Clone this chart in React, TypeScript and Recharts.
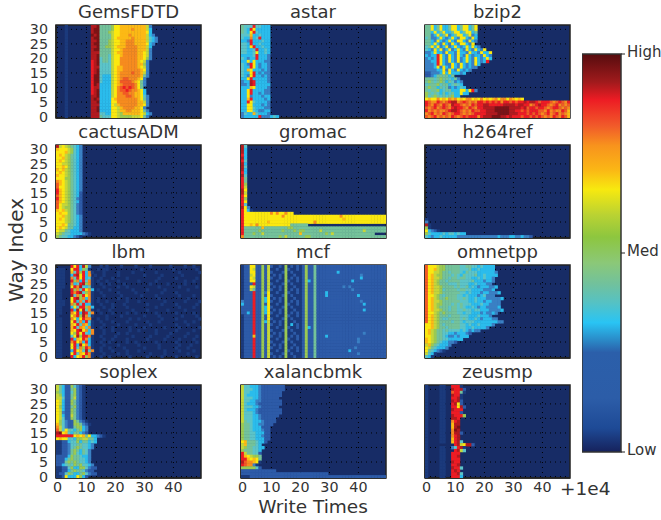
import React from "react";
import { ScatterChart, Scatter, XAxis, YAxis, ReferenceLine, ReferenceArea, BarChart, Bar } from "recharts";

const xTicks = [0, 10, 20, 30, 40];
const yTicks = [0, 5, 10, 15, 20, 25, 30];
const levelColors = ["#172c66","#1b3a7c","#2d5ba8","#3a80c4","#2bbcec","#5cc4c8","#74c29a","#9bc952","#c5d63a","#fbe80f","#fcb915","#f68b1f","#f15a24","#ed1c24","#b21a1e","#7d1315"];
const colorStops = [[0,"#560c0e"],[0.07,"#a01a1c"],[0.115,"#ed1c24"],[0.18,"#f15a2a"],[0.23,"#f8931d"],[0.29,"#fbb615"],[0.34,"#f7e90f"],[0.405,"#b9d233"],[0.46,"#8dc63f"],[0.525,"#8bc878"],[0.58,"#70c19e"],[0.625,"#55c2c4"],[0.675,"#29c4f4"],[0.715,"#2a8fcb"],[0.75,"#2b5faa"],[0.865,"#2c5da8"],[0.94,"#1e4a96"],[1,"#16225c"]];
const colorbarLabels = { 0: "Low", 0.5: "Med", 1: "High" };

// each row string: top row first, one hex intensity level per cell (spaces only group cells by ten), omitted tail = level 0
const gems = [
"0001000000 00eef66667 99aaaaaaaa a83","0001000000 00eff66667 99aaaabaaa a84","0001000000 00eff66678 99aaaaaaaa a94","0001000000 00fef66668 99aaabaaaa a843",
"0001000000 00eff66668 9aaaaabaaa a8543","0001000000 00eef66678 99aabbbaaa a8543","0001000000 00eff66678 99aabbbaaa a943","0001000000 00eef66778 9aaabbbbaa a84",
"0001000000 00eff66668 99abbbbbaa a83","0001000000 00eee66668 9aabbbbbaa 983","0001000000 00eef66658 99abbbbbaa 983","0001000000 00eef56658 99bbbbbbaa 973",
"0001000000 00def56658 99bbbbbba9 83","0001000000 00def55558 99bbbbbbaa 73","0001000000 00dee55558 9aabbbbba9 83","0001000000 00def55558 9aabbbbbba 93",
"0001000000 00def55558 9abbbbcbba 83","0001000000 00dff54448 9abbbbbbba 63","0001000000 00dff54448 9abccbbba9 3","0001000000 00dff54448 9accccba96 3",
"0001000000 00dfe44448 9abccccb96 3","0001000000 00dee44448 9bcdcdcb96","0001000000 00def44448 9bccdcbba9 4","0001000000 00def44448 9bbccbbaa9 4",
"0001000000 00eef44448 9bbbccbaa9 53","0001000000 00efe44449 abbbbbbba9 63","0001000000 00eef44449 9bbbbbbbaa 83","0001000000 00eee44449 8abbbbbbaa 93",
"0001000000 00eef44449 98abbbbaa9 3","0001000000 00eef44449 98aabbaaa9 63","0001000000 00eee55449 987aaaaaa9 843","0001000000 00eee65559 9877778889 63",
];
const astar = [
"6555d55444","654d944444","6549d54444","555a445444","544b45d444","443d444544","554d445444","5549d44544",
"55445d4454","5544594454","44445d4443","54344d4443","4494944433","543d943443","544d943443","54a9444343",
"5449d43433","5439d44343","449d444443","344ed44443","334ed44444","444a944443","449d444433","449d443433",
"4493444344","44ad444434","44d9544443","4499444343","4499544433","4499543344","3544a54443","344444d333 454",
];
const bzip2 = [
"6694694469 94699469","6694694469 94699469","6649469446 99469946","6634946934 69946934","5633494349 43994394","6643943494 39943943","6649439439 4399439","5694934934 94349494 3",
"5439493493 49439439 439","3349443944 39443944 39449","4344d94394 39439434 43943","3434d94394 39349439 43494","3344d94394 39349439 434d","3334d94339 43943439 4","3334939439 43943433","3333449394 394343",
"2233349494 4434","2234666646","6665676654 63","6765676465 343","5666756645 654","6766465634 3454","6566745664 449949d3","7656546456 44944",
"7567656567 44","9a99b9a9ba b9a9bb9a9b 9a9ab9bb9b a9a9","dcbbdcbcde ebcdcbcbdd cdcdcdbddc dcddedeedc dddcbcdcbd","dcbdcbdcbe ddcbcbdcdd eedddddeee edeeddbcde ddcbcdbcbc",
"cbcdbcdcbd eddcbdcbdd eeeefffffe eeedecddcd dcbcddcbcb","dbcbcbbcde edcbcbdccd deeefffffe eddcdcdddc cbdbcbbdca","bcdbcbdcbc ddcbcbcddd deeeeffffe eedddcdcdc bcdbcdbcba","cbcdbcbcbd cbcdcdddbd eeefffeede dddcddcdcd cbcbdcbdca",
];
const cactus = [
"e89876543","a99987543","999a87543","9a9876543","99a876543","9a9876543","998876543","99a976543",
"a9a876543","9a9876543","a99876543","999776543","ba9876543","ca9876543","c99876543","da9876543",
"da9876542","ca9876542","da9876532","ca9876542","c98876532","c98776532","a9a876532","9a9976532",
"99a876543","9a9876543","999876543","99a966543","9a9866443","988654443","8765544443 21","765544321",
];
const lbm = [
"00000d9d4e 8300010100 0010000100 0010000001 0000100100","11100 9dd476 1 0010110000".replace(/ /g, "") + "0000000100 0000000010 000000100","11100a5d7d 4b10001000 0100001000 0000100000 0010000001","11100 4de9d4 b0100100 0010000000 0100000100 0000100000",
"11100b5d9d 4510010001 0000100000 0000010000 0100000010","11100d7b4d 5b10100100 0100000010 0000100000 0000100100","11100b45de 7b10010010 0001000000 0010000010 0000100000","111009dbe5 4610001000 0100100000 0000010000 0010000010",
"11000d7b5d 9b40100010 0000001000 0100000100 0000010000","11000dbde5 7b10010000 0100000100 0000001000 0100000000","11000e5b7d 9b10001000 0010000001 0000100000 0010000100","110009de7b 4b10100000 0100100000 0000010000 0000010000",
"111009d4b5 db10100100 0000100010 0000000100 0000100001","11100b7d5d 4410010001 0001000000 0100001000 0100000010","1100049 5dd 7b40001001 0000100000 0000100000 0010000100","11000d4e9e 5b10100010 0000001000 0100000010 0000100000",
"11000b9d4e d5b0010001 0000100100 0000100000 0100000100","100009bd7e b510000100 0010000000 1000010000 0001000010","11000b949d bb00100100 0000010010 0000001000 0100000001","110009d5b4 d510010001 0000100000 0100010000 0000100100",
"11000a9d5b a410001000 0100000100 0010000000 0100010000","11000ad5ba 5b10010001 0000010000 1000000100 0010000001","11000a9de9 b4b0001001 0000010010 0000100000 0100000100","1100097d9d 54b0001000 0100100000 0000100001 0000010000",
"1100059e7d db10010000 1000001000 0010000010 0000100010","11000d4a9d b410001001 0000100000 0100000100 0010000100","11000bd9b4 d410010010 0000100100 0000100000 0100000010","110009d4e9 b410001000 0100000010 0000010000 0010001000",
"110009d5b7 db10010010 0001000000 1000010000 0100010000","110004d9a5 e5b0010001 0000100010 0000000100 0010000100","110009d5a9 db10001000 0100100000 0010000100 0000010000","11000d49ad 7b10010010 0000010000 0100001000 0100000010",
];
const mcf = [
"1229922728 2112171212 1272262222 2222222222 2222222222","1229822728 1121172112 1272262222 2222222222 2222222222","1229922728 2111271211 1272262222 2224222222 2222222222","1228922728 1212171121 1272262222 2222222222 2322222222",
"1229822728 2112171212 1272262222 2222222222 2422222222","1229922728 1121172112 1274262222 2222222242 2222222222","1222d22728 2111271211 1272262222 2222222222 2222222222","1229822728 1212171121 1272262222 2222232322 2222222222",
"1228622728 2112171212 1272262222 2222222232 2222222222","1222d22739 1121172112 1272262224 2222222222 2222222222","1222d22729 2111271211 1272262224 2222222222 4222222222","1222d22749 1212171121 1272262222 2222222222 2222222222",
"3222d22749 2112171212 1272262222 2222222222 2322222222","4222d22729 1121172112 1272262222 2222222222 2242222222","2222d22749 2111271211 1272262222 2222222222 2222222222","2222d22749 1212171121 1272262222 2222222222 2242222222",
"2242d22749 2112171212 1272262222 2222222222 2222222222","1222d22729 1121172112 1272262222 2222222222 2222222222","1222d22729 2111271211 1272262222 2222222222 2222222222","1222d22748 1212171121 1272262222 2222222222 2222222222",
"1222d22728 2112171412 1272262222 2222222222 2222222222","1222d22728 1121172112 1274262222 2222222222 2222222222","1222d22728 2111271211 1272262222 2222222222 2222222222","1222d22728 1212171121 1272262222 2222222222 2232222222",
"1222a22728 2112171212 1272262224 2222222222 2222222222","1222d22728 1121172112 1272262222 2222222222 3222222222","1222d22728 2111271211 1272262222 2222222222 3222222222","1222d22728 1212171121 1272262222 2222222222 2222222222",
"1222d22728 2112171212 1272262222 2222222223 2222222222","1222d22728 1121172112 1272262222 2222222422 2222222222","1222d22728 2111271211 1272262222 2222222222 3222222222","1222d22728 1212171121 1272262222 2222222222 2222222222",
];
const omnetpp = [
"c999877666 6655665545 4444","c99a877666 6655564454 4444","c998876656 6654655544 44443","c9a8776665 6546555644 54444",
"c9a8876656 6566554454 5443","c9a8766566 6655556444 3443","c9a8766655 5655544544 433","c9a8876666 5655645434 44334",
"c9a8875666 6566554444 3334","c9a8876666 6655454443 443334","c998765666 6554544434 5333","c9a8766766 6556544544 4333334",
"c9a8876666 6655544544 344333","c9a8776665 6565554445 44333 3","c9a8766656 6565445434 433334","c9a8876656 6556554554 4433334",
"c998767666 6554554443 43343","c9a8766656 6655544454 443","c9a8765566 6656544543 44433","c9a8766665 6654555444 4444433",
"99a8765666 6655454454 4443","99a8766566 6655445444 43","9a87665655 5545434 33","9a87665544 344432",
"9987665433 43444","a987665544 444","a987654433 2","8a7654443","98654443","9654321","8541","541",
];
const soplex = [
"8642275321","8642267321","7642257321","8742267321","8852268321","9842276321","9842276321","9742267321",
"9842276321","9832276321","9842286321","9852276321","9753227632 1","a753227763 21","b853226774 3","c859654674 3",
"ef9a546643 2","dddddd9a9a 6944321","9a99554778 8664","1122455746 6454","1122355665 543","1122356765 543","1122367646 53","1122367546 53",
"2222476654 43","2224676655 43","2226767655 43","2245657675 543","1122574477 5322","1122467665 322","1225764467 5322","1129444974 2",
];
const xalanc = [
"8554443222 22222","8555443222 22222","8554443222 2222","8544443222 2222","8555443222 222","8554433222 2222","8544432222 2222","8555443222 222",
"8544432222 2222","8555432222 2222","8555443222 222","8555443222 22","8655444322 22","7665443322 2","7665444222","7665444322",
"7665544422","7665544322","7665544422","9a6665442","8a66654","8766554 4","7666554","d866552",
"da98776","dda9a96","ecbba91","dcbb31","7777752","2222222222 22","2222222222 2222222222 2222222222","1112222222 2222222222 2222222222 2222222222 2222222222",
];
const gromac = [
"e5","e4","e4","d4","e4","d5","e4","e5","e4","d4","e5","d6","d6","d7","d8","e9","e8","d9","d7","d9","d5","e93","d941",
"d999999999 b9b99b99","d999999999 9999b99999 9999999999 9999b99999 9999999999","d999999999 9999999999 9999999999 99999a9999 9999999999","d99999999a 9999999999 99999b9999 9999999999 9999999999",
"d99a9b9999 9999999000 0000000000 0000000000 0000000000".replace("9999999000 0000000000", "9999999666 6660000000"),"d666666a66 6666667766 6666666666 6666666666 6666666666","d666667666 6666766676 7766666866 6666666666 6686666666","d666766866 6666666666 a666666667 6866666666 6666660000","b666666666 6667686666 6677666666 6666666666 6666666666",
];
const h264 = [
"","","","","","","","","","","","","","","","","","","","","","","","","",
"1","3","e1","71","94321","7544445455 4544","5434454444 4333333333 3333343334 4334332",
];
const zeusmp = [
"100001100d dd1","100001100e dde2","100001100c dd61","100001100e dd1","100001100d de1","100001100e de2","100001100d e92","100001100d d9e2",
"100001100e ddd","100001100d dd2","100001100e ddd7","100001100e ed","100001100b de","100001100a ee","100001100a ef","100001100b fe",
"100001100b ee2","100001100b de","100001100a de","100001100a de5","1000000000 de89ee2","1000011003 5de1","1000011000 de85","100001100d dd",
"100001100d de","100001100d dd","100001100e dd","100001100d de","100001100e dd5","100001100d ed","100001100d de5","100001100d dd4",
];
const titles = ["GemsFDTD","astar","bzip2","cactusADM","gromac","h264ref","lbm","mcf","omnetpp","soplex","xalancbmk","zeusmp"];
const panelRows = [gems, astar, bzip2, cactus, gromac, h264, lbm, mcf, omnetpp, soplex, xalanc, zeusmp];

const colLeft = [56, 240.5, 425];
const rowTop = [25, 145, 265, 385];
const PW = 145, PH = 93, ML = 40, MB = 26, MT = 4, MR = 6;
const fontFamily = "DejaVu Sans";
const textColor = "#333333";

function toCells(rows: string[]) {
  const cells: { x: number; y: number; level: number }[] = [];
  rows.forEach((raw, r) => {
    const row = raw.replace(/ /g, "");
    for (let c = 0; c < Math.min(row.length, 50); c++) {
      const level = parseInt(row[c], 16);
      if (level > 0) cells.push({ x: c, y: 31 - r, level });
    }
  });
  return cells;
}

function cellShape(p: any) {
  const w = PW / 50, h = PH / 32;
  return <rect x={p.cx - w / 2} y={p.cy - h / 2} width={w + 0.4} height={h + 0.4} fill={levelColors[p.payload.level]} />;
}

const dotted = { stroke: "#000", strokeDasharray: "1 4", strokeWidth: 1 };

function Panel({ index }: { index: number }) {
  const col = index % 3, row = Math.floor(index / 3);
  const showX = row === 3, showY = col === 0;
  const tickStyle = { fontSize: 14.3, fill: textColor, fontFamily };
  const left = colLeft[col], top = rowTop[row];
  return (
    <>
      <div style={{ position: "absolute", left, top: top - 24, width: PW, textAlign: "center", fontSize: 18, lineHeight: "22px", color: textColor, fontFamily }}>{titles[index]}</div>
      <div style={{ position: "absolute", left: left - ML, top: top - MT }}>
        <ScatterChart width={ML + PW + MR} height={MT + PH + MB} margin={{ left: 0, right: MR, top: MT, bottom: 0 }}>
          <XAxis type="number" dataKey="x" domain={[-0.5, 49.5]} ticks={xTicks} allowDataOverflow height={MB} interval={0} tickSize={3} tickMargin={1}
            tick={showX ? tickStyle : false} tickLine={false} axisLine={{ stroke: "#222", strokeWidth: 1.5 }} />
          <YAxis type="number" dataKey="y" domain={[-0.5, 31.5]} ticks={yTicks} allowDataOverflow width={ML} interval={0}
            tick={showY ? tickStyle : false} tickLine={false} axisLine={{ stroke: "#222", strokeWidth: 1.5 }} tickMargin={2} />
          <ReferenceArea x1={-0.5} x2={49.5} y1={-0.5} y2={31.5} fill={levelColors[0]} fillOpacity={1} stroke="none" />
          <Scatter data={toCells(panelRows[index])} shape={cellShape} isAnimationActive={false} />
          {xTicks.map((t) => <ReferenceLine key={"x" + t} x={t} {...dotted} />)}
          {yTicks.map((t) => <ReferenceLine key={"y" + t} y={t} {...dotted} />)}
          <ReferenceArea x1={-0.5} x2={49.5} y1={-0.5} y2={31.5} fill="none" stroke="#222" strokeWidth={1.5} />
        </ScatterChart>
      </div>
    </>
  );
}

const colorbarData = [{ name: "scale", value: 1 }];

function Colorbar() {
  return (
    <div style={{ position: "absolute", left: 582, top: 44 }}>
      <BarChart width={79} height={418} data={colorbarData} margin={{ left: 0, right: 0, top: 10, bottom: 10 }} barCategoryGap={0}>
        <defs>
          <linearGradient id="scale" x1="0" y1="0" x2="0" y2="1">
            {colorStops.map(([o, c]) => <stop key={o as number} offset={o as number} stopColor={c as string} />)}
          </linearGradient>
        </defs>
        <XAxis dataKey="name" hide />
        <YAxis orientation="right" type="number" domain={[0, 1]} ticks={[0, 0.5, 1]} width={40} interval={0} axisLine={false}
          tickLine={{ stroke: "#222" }} tickSize={4}
          tickFormatter={(v: number) => (colorbarLabels as any)[v]} tick={{ fontSize: 15, fill: textColor, fontFamily, dy: -2 }} />
        <Bar dataKey="value" fill="url(#scale)" stroke="#333" strokeWidth={1.5} isAnimationActive={false} />
      </BarChart>
    </div>
  );
}

export default function App() {
  return (
    <div style={{ position: "absolute", left: 0, top: 0, width: 661, height: 520, background: "#fff", overflow: "hidden" }}>
      {titles.map((t, i) => <Panel key={t} index={i} />)}
      <Colorbar />
      <div style={{ position: "absolute", left: 16, top: 250, width: 0, height: 0 }}>
        <div style={{ position: "absolute", left: -60, top: -13, width: 120, textAlign: "center", transform: "rotate(-90deg)", fontSize: 20, lineHeight: "26px", color: textColor, fontFamily }}>Way Index</div>
      </div>
      <div style={{ position: "absolute", left: 213, top: 499, width: 200, textAlign: "center", fontSize: 18.5, lineHeight: "16px", color: textColor, fontFamily }}>Write Times</div>
      <div style={{ position: "absolute", left: 560, top: 479, fontSize: 18.5, lineHeight: "20px", color: textColor, fontFamily }}>+1e4</div>
    </div>
  );
}
